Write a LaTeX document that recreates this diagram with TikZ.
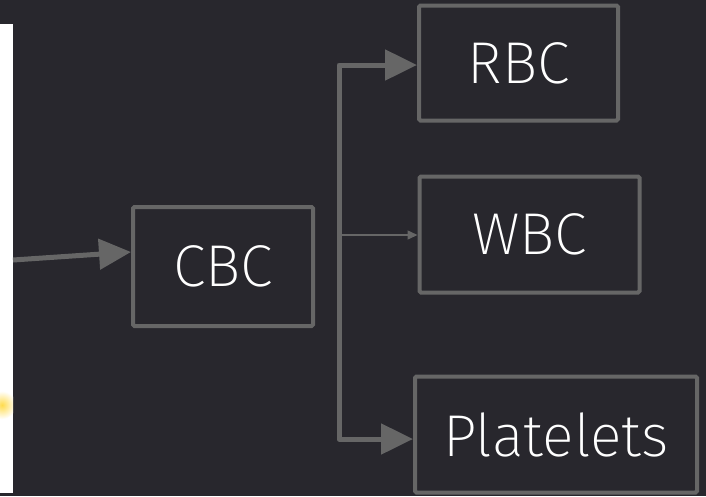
\documentclass[tikz,border=0pt]{standalone}
\usepackage{fontspec}
\setmainfont{Fira Sans ExtraLight}
\usetikzlibrary{arrows.meta}
\definecolor{bg}{HTML}{28272D}
\definecolor{edge}{HTML}{666666}
\tikzset{
  box/.style={draw=edge, line width=4pt, rounded corners=1.5pt, text=white, inner sep=0pt, font=\fontsize{59}{62}\selectfont},
  conn/.style={draw=edge, line width=5pt, -{Triangle[length=32pt,width=30pt]}},
  thin/.style={draw=edge, line width=1.5pt, -{Triangle[length=10pt,width=9pt]}},
}
\begin{document}
\begin{tikzpicture}[x=1pt,y=-1pt]
\fill[bg] (0,0) rectangle (706,496);
\useasboundingbox (0,0) rectangle (706,496);
\fill[white] (0,24) rectangle (13,493);
\begin{scope}
\clip (0,24) rectangle (13,493);
\shade[inner color=yellow!60!orange!70, outer color=white] (2,405) circle (14);
\end{scope}
\coordinate (src) at (13,260);
\node[box, minimum width=180pt, minimum height=119pt] (cbc) at (223,266.5) {CBC};
\node[box, minimum width=199pt, minimum height=115pt] (rbc) at (518.5,63) {RBC};
\node[box, minimum width=220pt, minimum height=116pt] (wbc) at (529.5,234.5) {WBC};
\node[box, minimum width=282pt, minimum height=116pt] (plt) at (556,434.5) {Platelets};
\coordinate (top) at (339,65);
\coordinate (bot) at (339,439);
\coordinate (mid) at (339,235);
\draw[conn] (src) -- (cbc.west |- 0,252);
\draw[draw=edge, line width=5pt, line join=round] (rbc.west |- top) ++(-30,0) -- (top) -- (bot) -- ++(30,0);
\draw[conn] (top) -- (rbc.west |- top);
\draw[conn] (bot) -- (plt.west |- bot);
\draw[thin] (mid) -- (wbc.west |- mid);
\end{tikzpicture}
\end{document}
